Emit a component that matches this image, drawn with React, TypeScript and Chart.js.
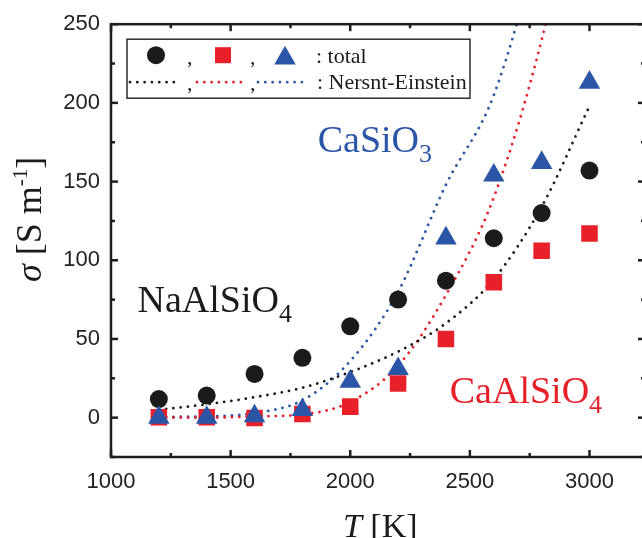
import React, { useEffect, useRef } from "react";
import { Chart, registerables } from "chart.js";

Chart.register(...registerables);

// ---------- data ----------
const temperatures = [1200, 1400, 1600, 1800, 2000, 2200, 2400, 2600, 2800, 3000];
const naAlSiO4Total = [11.8, 14, 27.8, 38, 58, 75, 87, 114, 130, 157];
const caAlSiO4Total = [0.2, 0.2, -0.2, 2.3, 7, 21.7, 50, 86, 106, 117];
const caSiO3Total = [0, 0, 1, 5, 23, 31, 114, 154, 162, 213];
const naAlSiO4NE = [5, 8.5, 13, 19, 29, 42, 60, 88, 134, 198];
const caAlSiO4NE = [0, 0, 0.8, 2, 10, 33, 78, 140, 240, 380];
const caSiO3NE = [0.5, 0.8, 3, 11, 36, 80, 148, 205, 310, 450];

const xMajorTicks = [1000, 1500, 2000, 2500, 3000];
const xMinorTicks = [1250, 1750, 2250, 2750, 3250];
const yMajorTicks = [0, 50, 100, 150, 200, 250];
const yMinorTicks = [-25, 25, 75, 125, 175, 225];

const BLACK = "#1b1b1b";
const RED = "#e8202a";
const BLUE = "#2b56a8";
const AXIS = "#1e1e1e";
const SERIF = '"Liberation Serif", "Times New Roman", serif';
const SANS = '"Liberation Sans", Arial, sans-serif';

const pts = (ys: number[]) => temperatures.map((t, i) => ({ x: t, y: ys[i] }));

const DOT_DASH = [0.01, 7.3];

const framePlugin = {
  id: "frame",
  afterDraw(chart: any) {
    const { ctx, chartArea: a, scales } = chart;
    const x = scales.x;
    const y = scales.y;
    ctx.save();
    ctx.strokeStyle = AXIS;
    ctx.lineWidth = 2.5;
    ctx.lineCap = "butt";
    ctx.strokeRect(a.left, a.top, a.right - a.left, a.bottom - a.top);
    const seg = (x1: number, y1: number, x2: number, y2: number) => {
      ctx.beginPath();
      ctx.moveTo(x1, y1);
      ctx.lineTo(x2, y2);
      ctx.stroke();
    };
    const drawX = (vals: number[], len: number) =>
      vals.forEach((v) => {
        const px = x.getPixelForValue(v);
        if (px < a.left - 1 || px > a.right + 1) return;
        seg(px, a.bottom, px, a.bottom - len);
        seg(px, a.top, px, a.top + len);
      });
    const drawY = (vals: number[], len: number) =>
      vals.forEach((v) => {
        const py = y.getPixelForValue(v);
        if (py < a.top - 1 || py > a.bottom + 1) return;
        seg(a.left, py, a.left + len, py);
        seg(a.right, py, a.right - len, py);
      });
    drawX(xMajorTicks, 7);
    drawX(xMinorTicks, 4);
    drawY(yMajorTicks, 7);
    drawY(yMinorTicks, 4);

    // axis titles
    ctx.fillStyle = BLACK;
    ctx.textBaseline = "alphabetic";
    // x title: T [K]
    const xs = 34;
    ctx.font = `italic ${xs}px ${SERIF}`;
    const wT = ctx.measureText("T").width;
    ctx.font = `${xs}px ${SERIF}`;
    const wRest = ctx.measureText(" [K]").width;
    const cx = (a.left + x.getPixelForValue(3000)) / 2 + 30;
    const sx = cx - (wT + wRest) / 2;
    const by = a.bottom + 80;
    ctx.font = `italic ${xs}px ${SERIF}`;
    ctx.fillText("T", sx, by);
    ctx.font = `${xs}px ${SERIF}`;
    ctx.fillText(" [K]", sx + wT, by);

    // y title: σ [S m-1]
    const ys = 36;
    const supS = 21;
    ctx.font = `italic ${ys}px ${SERIF}`;
    const wSig = ctx.measureText("σ").width;
    ctx.font = `${ys}px ${SERIF}`;
    const wA = ctx.measureText(" [S m").width;
    const wC = ctx.measureText("]").width;
    ctx.font = `${supS}px ${SERIF}`;
    const wB = ctx.measureText("-1").width;
    const total = wSig + wA + wB + wC;
    ctx.save();
    ctx.translate(a.left - 70, y.getPixelForValue(126));
    ctx.rotate(-Math.PI / 2);
    let tx = -total / 2;
    ctx.font = `italic ${ys}px ${SERIF}`;
    ctx.fillText("σ", tx, 0);
    tx += wSig;
    ctx.font = `${ys}px ${SERIF}`;
    ctx.fillText(" [S m", tx, 0);
    tx += wA;
    ctx.font = `${supS}px ${SERIF}`;
    ctx.fillText("-1", tx, -14);
    tx += wB;
    ctx.font = `${ys}px ${SERIF}`;
    ctx.fillText("]", tx, 0);
    ctx.restore();

    ctx.restore();
  },
};

const annotations = [
  { main: "NaAlSiO", sub: "4", t: 1111, s: 67, color: BLACK },
  { main: "CaSiO", sub: "3", t: 1864, s: 169, color: BLUE },
  { main: "CaAlSiO", sub: "4", t: 2416, s: 9, color: RED },
];

const annotationPlugin = {
  id: "annot",
  afterDatasetsDraw(chart: any) {
    const { ctx, scales } = chart;
    ctx.save();
    ctx.textBaseline = "alphabetic";
    annotations.forEach((an) => {
      const px = scales.x.getPixelForValue(an.t);
      const py = scales.y.getPixelForValue(an.s);
      ctx.fillStyle = an.color;
      ctx.font = `38px ${SERIF}`;
      ctx.fillText(an.main, px, py);
      const w = ctx.measureText(an.main).width;
      ctx.font = `26px ${SERIF}`;
      ctx.fillText(an.sub, px + w, py + 10);
    });
    ctx.restore();
  },
};

const legendPlugin = {
  id: "customLegend",
  afterDraw(chart: any) {
    const { ctx, chartArea: a } = chart;
    const bx = a.left + 16;
    const by = a.top + 15;
    const bw = 343;
    const bh = 59;
    ctx.save();
    ctx.fillStyle = "#ffffff";
    ctx.fillRect(bx, by, bw, bh);
    ctx.strokeStyle = AXIS;
    ctx.lineWidth = 1.4;
    ctx.strokeRect(bx, by, bw, bh);

    // row 1 markers
    const r1 = by + 16;
    ctx.fillStyle = BLACK;
    ctx.beginPath();
    ctx.arc(bx + 29, r1, 9, 0, Math.PI * 2);
    ctx.fill();
    ctx.fillStyle = RED;
    ctx.fillRect(bx + 96 - 8, r1 - 8, 16, 16);
    ctx.fillStyle = BLUE;
    const tr = 12.4;
    const tcx = bx + 158;
    const tcy = r1 + 3;
    ctx.beginPath();
    ctx.moveTo(tcx, tcy - tr);
    ctx.lineTo(tcx + tr * Math.sin(Math.PI / 3), tcy + tr / 2);
    ctx.lineTo(tcx - tr * Math.sin(Math.PI / 3), tcy + tr / 2);
    ctx.closePath();
    ctx.fill();

    ctx.fillStyle = BLACK;
    ctx.font = `22px ${SERIF}`;
    ctx.textBaseline = "alphabetic";
    ctx.fillText(",", bx + 60, by + 25);
    ctx.fillText(",", bx + 123, by + 25);
    ctx.fillText(": total", bx + 189, by + 24);

    // row 2 lines
    const r2 = by + 43;
    ctx.lineWidth = 2.8;
    ctx.lineCap = "round";
    ctx.setLineDash(DOT_DASH);
    const line = (x1: number, x2: number, c: string) => {
      ctx.strokeStyle = c;
      ctx.beginPath();
      ctx.moveTo(x1, r2);
      ctx.lineTo(x2, r2);
      ctx.stroke();
    };
    line(bx + 3, bx + 53, BLACK);
    line(bx + 70, bx + 120, RED);
    line(bx + 131, bx + 181, BLUE);
    ctx.setLineDash([]);
    ctx.fillStyle = BLACK;
    ctx.fillText(",", bx + 60, by + 51);
    ctx.fillText(",", bx + 123, by + 51);
    ctx.fillText(": Nersnt-Einstein", bx + 190, by + 50);
    ctx.restore();
  },
};

export default function App() {
  const ref = useRef<HTMLCanvasElement | null>(null);

  useEffect(() => {
    if (!ref.current) return;
    const lineDs = (label: string, ys: number[], color: string, order: number) => ({
      label,
      data: pts(ys),
      showLine: true,
      borderColor: color,
      backgroundColor: color,
      borderWidth: 2.8,
      borderDash: DOT_DASH,
      borderCapStyle: "round" as const,
      pointRadius: 0,
      pointHoverRadius: 0,
      cubicInterpolationMode: "monotone" as const,
      order,
    });
    const markerDs = (label: string, ys: number[], color: string, style: string, radius: number, order: number) => ({
      label,
      data: pts(ys),
      showLine: false,
      pointStyle: style,
      pointRadius: radius,
      pointHoverRadius: radius,
      pointBackgroundColor: color,
      pointBorderColor: color,
      pointBorderWidth: 0,
      order,
    });

    const chart = new Chart(ref.current, {
      type: "scatter",
      data: {
        datasets: [
          markerDs("CaSiO3 total", caSiO3Total, BLUE, "triangle", 12.4, 1),
          markerDs("CaAlSiO4 total", caAlSiO4Total, RED, "rect", 11.7, 2),
          markerDs("NaAlSiO4 total", naAlSiO4Total, BLACK, "circle", 9, 3),
          lineDs("NaAlSiO4 NE", naAlSiO4NE, BLACK, 4),
          lineDs("CaAlSiO4 NE", caAlSiO4NE, RED, 5),
          lineDs("CaSiO3 NE", caSiO3NE, BLUE, 6),
        ] as any,
      },
      options: {
        animation: false,
        responsive: false,
        devicePixelRatio: 1,
        layout: { padding: { left: 0, top: 23, right: 15, bottom: 0 } },
        plugins: {
          legend: { display: false },
          tooltip: { enabled: false },
          title: { display: false },
        },
        scales: {
          x: {
            type: "linear",
            min: 1000,
            max: 3232,
            grid: { display: false, drawTicks: false },
            border: { display: false },
            afterBuildTicks: (scale: any) => {
              scale.ticks = xMajorTicks.map((v) => ({ value: v }));
            },
            afterFit: (scale: any) => {
              scale.height = 81;
            },
            ticks: {
              padding: 12,
              color: "#222",
              font: { family: SANS, size: 22 },
              maxRotation: 0,
              autoSkip: false,
              callback: (v: any) => String(v),
            },
          },
          y: {
            type: "linear",
            min: -25,
            max: 250,
            grid: { display: false, drawTicks: false },
            border: { display: false },
            afterBuildTicks: (scale: any) => {
              scale.ticks = yMajorTicks.map((v) => ({ value: v }));
            },
            afterFit: (scale: any) => {
              scale.width = 111;
            },
            ticks: {
              padding: 11,
              color: "#222",
              font: { family: SANS, size: 22 },
              autoSkip: false,
              callback: (v: any) => String(v),
            },
          },
        },
      },
      plugins: [annotationPlugin, framePlugin, legendPlugin],
    });
    return () => chart.destroy();
  }, []);

  return (
    <div
      style={{
        position: "fixed",
        left: 0,
        top: 0,
        width: 642,
        height: 538,
        overflow: "hidden",
        background: "#ffffff",
      }}
    >
      <canvas ref={ref} width={660} height={538} style={{ display: "block", width: 660, height: 538 }} />
    </div>
  );
}
